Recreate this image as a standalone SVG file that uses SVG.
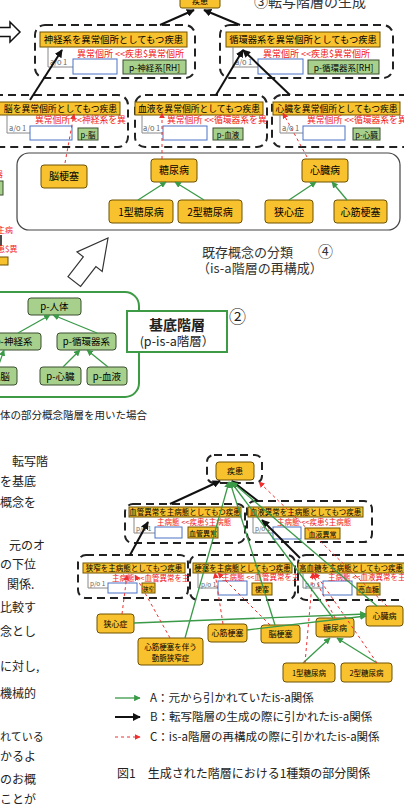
<svg xmlns="http://www.w3.org/2000/svg" width="404" height="808" viewBox="0 0 404 808">
<defs>
<marker id="mk" viewBox="0 0 10 10" refX="9" refY="5" markerWidth="4" markerHeight="4" orient="auto"><path d="M0,0 L10,5 L0,10 z" fill="#111"/></marker>
<marker id="mg" viewBox="0 0 10 10" refX="9" refY="5" markerWidth="5" markerHeight="5" orient="auto"><path d="M0,0 L10,5 L0,10 z" fill="#3a9a48"/></marker>
<marker id="mr" viewBox="0 0 10 10" refX="9" refY="5" markerWidth="6" markerHeight="6" orient="auto"><path d="M0,0 L10,5 L0,10 z" fill="#f03030"/></marker>
</defs>
<style>
text{font-family:"Noto Sans CJK JP","Noto Sans",sans-serif}
.on{fill:#f8c22f;stroke:#6e5200;stroke-width:1}
.gn{fill:#a8d08d;stroke:#3b4f2e;stroke-width:1}
.bl{fill:#fff;stroke:#4a72c4;stroke-width:1}
.db{fill:none;stroke:#222;stroke-width:2;stroke-dasharray:8 5}
.rt{fill:#f01818}
.gl{stroke:#3a9a48;stroke-width:1.3;fill:none}
.kl{stroke:#111;stroke-width:2;fill:none}
.rl{stroke:#f03030;stroke-width:1;stroke-dasharray:3 3;fill:none}
.gr{stroke:#888;stroke-width:1;fill:none}
.ao{fill:#666;font-size:7.5px}
.po{fill:#666;font-size:6.5px}
.tx{fill:#222}
</style>
<rect width="404" height="808" fill="#fff"/>

<!-- top section -->
<g id="top-disease"><rect class="on" x="180" y="-6" width="40" height="14" rx="2"/><text x="200" y="4" font-size="8" text-anchor="middle">疾患</text></g>
<text x="254" y="7" font-size="14" fill="#333">③転写階層の生成</text>
<path d="M-2,27.5 H10 V22 L20,32 L10,42 V36.5 H-2" fill="#fff" stroke="#111" stroke-width="1.5"/>

<g id="nerve">
<rect class="db" x="35" y="25" width="160" height="53" rx="10"/>
<rect class="on" x="40" y="32" width="147" height="15"/>
<text x="113.5" y="43" font-size="9.4" text-anchor="middle">神経系を異常個所としてもつ疾患</text>
<path class="gr" d="M48,47 V67 H73"/><text class="ao" x="50" y="65">a/o 1</text>
<rect class="bl" x="73" y="59" width="44" height="15"/>
<text class="rt" x="77" y="57" font-size="9">異常個所 &lt;&lt;疾患$異常個所</text>
<rect class="gn" x="123" y="60" width="63" height="14"/><text x="154.5" y="70.5" font-size="8.5" text-anchor="middle">p-神経系[RH]</text>
</g>
<g id="circ">
<rect class="db" x="220" y="25" width="173" height="53" rx="10"/>
<rect class="on" x="226" y="32" width="154" height="15"/>
<text x="303" y="43" font-size="9.3" text-anchor="middle">循環器系を異常個所としてもつ疾患</text>
<path class="gr" d="M233,47 V67 H258"/><text class="ao" x="235" y="65">a/o 1</text>
<rect class="bl" x="258" y="59" width="45" height="15"/>
<text class="rt" x="263" y="57" font-size="9">異常個所 &lt;&lt;疾患$異常個所</text>
<rect class="gn" x="308" y="60" width="71" height="14"/><text x="343.5" y="70.5" font-size="8.5" text-anchor="middle">p-循環器系[RH]</text>
</g>

<g id="brain">
<rect class="db" x="-15" y="95" width="143" height="52" rx="10"/>
<rect class="on" x="-2" y="102" width="122" height="13"/>
<text x="60.5" y="112" font-size="8.8" text-anchor="middle">脳を異常個所としてもつ疾患</text>
<path class="gr" d="M7,115 V133 H30"/><text class="ao" x="9" y="131">a/o 1</text>
<rect class="bl" x="30" y="126" width="42" height="14"/>
<text class="rt" x="35" y="123" font-size="8.8">異常個所 &lt;&lt;神経系を異</text>
<rect class="gn" x="78" y="128" width="20" height="12"/><text x="88" y="137.5" font-size="7.5" text-anchor="middle">p-脳</text>
</g>
<g id="blood">
<rect class="db" x="135" y="95" width="132" height="52" rx="10"/>
<rect class="on" x="135" y="102" width="128" height="13"/>
<text x="199" y="112" font-size="8.8" text-anchor="middle">血液を異常個所としてもつ疾患</text>
<path class="gr" d="M142,115 V133 H163"/><text class="ao" x="143" y="131">a/o 1</text>
<rect class="bl" x="163" y="126" width="44" height="14"/>
<text class="rt" x="167" y="123" font-size="8.8">異常個所 &lt;&lt;循環器系を異</text>
<rect class="gn" x="213" y="128" width="30" height="12"/><text x="228" y="137.5" font-size="7.5" text-anchor="middle">p-血液</text>
</g>
<g id="heart">
<rect class="db" x="272" y="95" width="150" height="52" rx="10"/>
<rect class="on" x="273" y="102" width="127" height="13"/>
<text x="336.5" y="112" font-size="8.8" text-anchor="middle">心臓を異常個所としてもつ疾患</text>
<path class="gr" d="M280,115 V133 H303"/><text class="ao" x="282" y="131">a/o 1</text>
<rect class="bl" x="303" y="126" width="42" height="14"/>
<text class="rt" x="307" y="123" font-size="8.8">異常個所 &lt;&lt;循環器系を異</text>
<rect class="gn" x="353" y="128" width="27" height="12"/><text x="366.5" y="137.5" font-size="7.5" text-anchor="middle">p-心臓</text>
</g>

<!-- left-edge fragments -->
<text class="rt" x="-5" y="177" font-size="8">器</text>
<rect class="gn" x="-10" y="181" width="13" height="14"/>
<text class="rt" x="-3" y="233" font-size="8">主病</text>
<path d="M1,235 V246" stroke="#111" stroke-width="1.5"/>
<text class="rt" x="-3" y="252" font-size="8">患$異</text>
<rect class="on" x="-4" y="257" width="12" height="8"/>

<!-- section 4 -->
<rect x="17" y="153" width="383" height="77" rx="12" fill="none" stroke="#444" stroke-width="1.2"/>
<g id="n-noukousoku"><rect class="on" x="41" y="165" width="46" height="23" rx="3"/><text x="64" y="180" font-size="10" text-anchor="middle">脳梗塞</text></g>
<g id="n-tounyou"><rect class="on" x="151" y="159" width="46" height="23" rx="3"/><text x="174" y="174" font-size="10" text-anchor="middle">糖尿病</text></g>
<g id="n-shinzou"><rect class="on" x="302" y="159" width="46" height="23" rx="3"/><text x="325" y="174" font-size="10" text-anchor="middle">心臓病</text></g>
<g id="n-t1"><rect class="on" x="109" y="200" width="64" height="23" rx="3"/><text x="141" y="215.5" font-size="10" text-anchor="middle">1型糖尿病</text></g>
<g id="n-t2"><rect class="on" x="178" y="200" width="64" height="23" rx="3"/><text x="210" y="215.5" font-size="10" text-anchor="middle">2型糖尿病</text></g>
<g id="n-kyoushin"><rect class="on" x="265" y="200" width="48" height="23" rx="3"/><text x="289" y="215.5" font-size="10" text-anchor="middle">狭心症</text></g>
<g id="n-shinkin"><rect class="on" x="334" y="200" width="53" height="23" rx="3"/><text x="360.5" y="215.5" font-size="10" text-anchor="middle">心筋梗塞</text></g>
<text x="202" y="257" font-size="13" fill="#333">既存概念の分類</text>
<text x="318" y="257" font-size="15" fill="#333">④</text>
<text x="197" y="273" font-size="13" fill="#333">（is-a階層の再構成）</text>
<polygon points="108,238 102.2,271.5 95.9,266.6 80.6,286.4 68,276.6 83.3,256.8 77,251.9" fill="#fff" stroke="#333" stroke-width="1.2"/>

<!-- section 2 -->
<rect x="-20" y="292" width="159" height="105" rx="14" fill="none" stroke="#3d9a45" stroke-width="2"/>
<g id="p-jintai"><rect class="gn" x="28" y="298" width="53" height="17" rx="3"/><text x="54.5" y="310" font-size="9.5" text-anchor="middle">p-人体</text></g>
<g id="p-shinkei"><rect class="gn" x="-14" y="333" width="55" height="17" rx="3"/><text x="13.5" y="345" font-size="9.5" text-anchor="middle">p-神経系</text></g>
<g id="p-junkan"><rect class="gn" x="57" y="333" width="59" height="17" rx="3"/><text x="86.5" y="345" font-size="9.5" text-anchor="middle">p-循環器系</text></g>
<g id="p-nou"><rect class="gn" x="-28" y="367" width="45" height="18" rx="3"/><text x="-9" y="380" font-size="9.5">p-脳</text></g>
<g id="p-shinzou"><rect class="gn" x="40" y="367" width="41" height="18" rx="3"/><text x="60.5" y="380" font-size="9.5" text-anchor="middle">p-心臓</text></g>
<g id="p-ketsueki"><rect class="gn" x="87" y="367" width="40" height="18" rx="3"/><text x="107" y="380" font-size="9.5" text-anchor="middle">p-血液</text></g>
<g id="label2"><rect x="127" y="311" width="100" height="41" fill="#fff" stroke="#3d9a45" stroke-width="2"/>
<text x="177" y="330" font-size="14" font-weight="bold" text-anchor="middle" fill="#222">基底階層</text>
<text x="177" y="346" font-size="12.5" text-anchor="middle" fill="#222">(p-is-a階層）</text></g>
<text x="229" y="323" font-size="17" fill="#222">②</text>

<text x="0" y="419" font-size="10.5" class="tx">体の部分概念階層を用いた場合</text>

<!-- left column text -->
<g class="tx" font-size="12">
<text x="12" y="466" font-size="12">転写階</text>
<text x="0" y="486" font-size="12">を基底</text>
<text x="0" y="507" font-size="12">概念を</text>
<text x="9" y="550" font-size="12">元のオ</text>
<text x="0" y="569" font-size="12">の下位</text>
<text x="7" y="589" font-size="12">関係.</text>
<text x="0" y="612" font-size="12">比較す</text>
<text x="0" y="636" font-size="12">念とし</text>
<text x="0" y="671" font-size="12">に対し,</text>
<text x="0" y="698" font-size="12">機械的</text>
<text x="0" y="741" font-size="11">れている</text>
<text x="0" y="761" font-size="12">かるよ</text>
<text x="0" y="784" font-size="12">のお概</text>
<text x="0" y="804" font-size="12">ことが</text>
</g>

<!-- bottom right -->
<rect class="db" x="207" y="455" width="55" height="28" rx="7"/>
<g id="b-shikkan"><rect class="on" x="216" y="462" width="38" height="18" rx="3"/><text x="235" y="474" font-size="8" text-anchor="middle">疾患</text></g>
<g id="b-kekkan">
<rect class="db" x="125" y="504" width="120" height="39" rx="8"/>
<rect class="on" x="129" y="507" width="112" height="10"/>
<text x="185" y="515" font-size="7.5" text-anchor="middle">血管異常を主病態としてもつ疾患</text>
<path class="gr" d="M134,517 V533 H155"/><text class="po" x="136" y="531">p/o 1</text>
<rect class="bl" x="155" y="527" width="27" height="11"/>
<text class="rt" x="157" y="525" font-size="7.5">主病態 &lt;&lt;疾患$主病態</text>
<rect class="on" x="188" y="527" width="30" height="11"/><text x="203" y="535.5" font-size="7" text-anchor="middle">血管異常</text>
</g>
<g id="b-ketsueki">
<rect class="db" x="247" y="501" width="125" height="41" rx="8"/>
<rect class="on" x="248" y="507" width="115" height="10"/>
<text x="305.5" y="515" font-size="7.5" text-anchor="middle">血液異常を主病態としてもつ疾患</text>
<path class="gr" d="M253,517 V533 H273"/><text class="po" x="255" y="531">p/o 1</text>
<rect class="bl" x="273" y="527" width="28" height="12"/>
<text class="rt" x="277" y="525" font-size="7.5">主病態 &lt;&lt;疾患$主病態</text>
<rect class="on" x="305" y="528" width="35" height="11"/><text x="322.5" y="536.5" font-size="7" text-anchor="middle">血液異常</text>
</g>
<g id="b-kyousaku">
<rect class="db" x="78" y="555" width="110" height="43" rx="8"/>
<rect class="on" x="83" y="563" width="102" height="10"/>
<text x="134" y="571" font-size="7.5" text-anchor="middle">狭窄を主病態としてもつ疾患</text>
<path class="gr" d="M88,573 V588 H108"/><text class="po" x="90" y="586">p/o 1</text>
<rect class="bl" x="108" y="583" width="29" height="10"/>
<text class="rt" x="112" y="581" font-size="7.5">主病態 &lt;&lt;血管異常を主</text>
<rect class="on" x="142" y="583" width="13" height="10"/><text x="148.5" y="590.5" font-size="5.5" text-anchor="middle">狭窄</text>
</g>
<g id="b-kousoku">
<rect class="db" x="190" y="555" width="105" height="45" rx="8"/>
<rect class="on" x="193" y="563" width="99" height="10"/>
<text x="242.5" y="571" font-size="7.5" text-anchor="middle">梗塞を主病態としてもつ疾患</text>
<path class="gr" d="M198,573 V588 H218"/><text class="po" x="201" y="587">p/o 1</text>
<rect class="bl" x="218" y="581" width="29" height="14"/>
<text class="rt" x="222" y="580" font-size="7.5">主病態 &lt;&lt;血管異常を主</text>
<rect class="on" x="252" y="583" width="20" height="12"/><text x="262" y="591.5" font-size="7" text-anchor="middle">梗塞</text>
</g>
<g id="b-kouketto">
<rect class="db" x="298" y="555" width="120" height="45" rx="8"/>
<rect class="on" x="298" y="563" width="108" height="10"/>
<text x="351" y="571" font-size="7.5" text-anchor="middle">高血糖を主病態としてもつ疾患</text>
<path class="gr" d="M303,573 V588 H323"/><text class="po" x="305" y="587">p/o 1</text>
<rect class="bl" x="323" y="581" width="29" height="14"/>
<text class="rt" x="328" y="580" font-size="7.5">主病態 &lt;&lt;血液異常を主</text>
<rect class="on" x="357" y="583" width="23" height="12"/><text x="368.5" y="591.5" font-size="7" text-anchor="middle">高血糖</text>
</g>
<g id="b-kyoushin"><rect class="on" x="97" y="614" width="37" height="19" rx="3"/><text x="115.5" y="626.5" font-size="8" text-anchor="middle">狭心症</text></g>
<g id="b-doumyaku"><rect class="on" x="138" y="638" width="65" height="27" rx="3"/><text x="170.5" y="649.5" font-size="7.5" text-anchor="middle">心筋梗塞を伴う</text><text x="170.5" y="660.5" font-size="7.5" text-anchor="middle">動脈狭窄症</text></g>
<g id="b-shinkin"><rect class="on" x="208" y="624" width="39" height="18" rx="3"/><text x="227.5" y="636" font-size="8" text-anchor="middle">心筋梗塞</text></g>
<g id="b-nou"><rect class="on" x="261" y="625" width="39" height="18" rx="3"/><text x="280.5" y="637" font-size="8" text-anchor="middle">脳梗塞</text></g>
<g id="b-tounyou"><rect class="on" x="316" y="618" width="38" height="19" rx="3"/><text x="335" y="630.5" font-size="8" text-anchor="middle">糖尿病</text></g>
<g id="b-shinzou"><rect class="on" x="366" y="606" width="37" height="20" rx="3"/><text x="384.5" y="619" font-size="8" text-anchor="middle">心臓病</text></g>
<g id="b-t1"><rect class="on" x="283" y="663" width="52" height="19" rx="3"/><text x="309" y="675.5" font-size="7.5" text-anchor="middle">1型糖尿病</text></g>
<g id="b-t2"><rect class="on" x="341" y="663" width="51" height="19" rx="3"/><text x="366.5" y="675.5" font-size="7.5" text-anchor="middle">2型糖尿病</text></g>

<!-- connectors -->
<g id="connectors">
<path class="kl" d="M30,100 L62,50" marker-end="url(#mk)"/>
<path class="kl" d="M160,25 L194,10" marker-end="url(#mk)"/>
<path class="kl" d="M240,25 L204,10" marker-end="url(#mk)"/>
<path class="kl" d="M216,95 L243,50" marker-end="url(#mk)"/>
<path class="kl" d="M290,95 L243,50" marker-end="url(#mk)"/>
<path class="rl" d="M65,163 L74,114" marker-end="url(#mr)"/>
<path class="rl" d="M162,159 L162,113" marker-end="url(#mr)"/>
<path class="rl" d="M307,157 L283,113" marker-end="url(#mr)"/>
<path class="gl" d="M138,200 L166,182" marker-end="url(#mg)"/>
<path class="gl" d="M204,200 L175,182" marker-end="url(#mg)"/>
<path class="gl" d="M289,200 L316,182" marker-end="url(#mg)"/>
<path class="gl" d="M347,200 L332,182" marker-end="url(#mg)"/>
<path class="gl" d="M18,333 L50,315" marker-end="url(#mg)"/>
<path class="gl" d="M97,333 L53,315" marker-end="url(#mg)"/>
<path class="gl" d="M-2,367 L4,350" marker-end="url(#mg)"/>
<path class="gl" d="M63,367 L80,350" marker-end="url(#mg)"/>
<path class="gl" d="M108,367 L87,350" marker-end="url(#mg)"/>

<path class="kl" d="M170,504 L220,481" marker-end="url(#mk)"/>
<path class="kl" d="M258,501 L232,481" marker-end="url(#mk)"/>
<path class="kl" d="M130,555 L148,522" marker-end="url(#mk)"/>
<path class="kl" d="M300,558 L262,520" marker-end="url(#mk)"/>
<path class="gl" d="M185,638 L229,482" marker-end="url(#mg)"/>
<path class="gl" d="M275,625 L230,482" marker-end="url(#mg)"/>
<path class="gl" d="M333,618 L231,482" marker-end="url(#mg)"/>
<path class="gl" d="M377,606 L232,482" marker-end="url(#mg)"/>
<path class="gl" d="M134,623 L366,614" marker-end="url(#mg)"/>
<path class="gl" d="M247,630 L366,616" marker-end="url(#mg)"/>
<path class="gl" d="M303,663 L330,638" marker-end="url(#mg)"/>
<path class="gl" d="M377,663 L337,638" marker-end="url(#mg)"/>
<path class="rl" d="M387,606 L259,482" marker-end="url(#mr)"/>
<path class="rl" d="M122,614 L127,575" marker-end="url(#mr)"/>
<path class="rl" d="M170,638 L135,575" marker-end="url(#mr)"/>
<path class="rl" d="M223,624 L215,573" marker-end="url(#mr)"/>
<path class="rl" d="M270,625 L218,573" marker-end="url(#mr)"/>
<path class="rl" d="M335,618 L312,573" marker-end="url(#mr)"/>
<path class="rl" d="M305,663 L313,573" marker-end="url(#mr)"/>
<path class="rl" d="M377,663 L315,573" marker-end="url(#mr)"/>

<path class="gl" d="M115,698 H140" marker-end="url(#mg)"/>
<path class="kl" d="M115,717 H140" stroke-width="2.5" marker-end="url(#mk)"/>
<path class="rl" d="M115,737 H140" marker-end="url(#mr)"/>
</g>
<g class="tx" font-size="11.5">
<text x="150" y="702" font-size="11.5">A：元から引かれていたis-a関係</text>
<text x="150" y="721" font-size="11.5">B：転写階層の生成の際に引かれたis-a関係</text>
<text x="150" y="741" font-size="11.5">C：is-a階層の再構成の際に引かれたis-a関係</text>
<text x="117" y="778" font-size="12">図1　生成された階層における1種類の部分関係</text>
</g>
</svg>
